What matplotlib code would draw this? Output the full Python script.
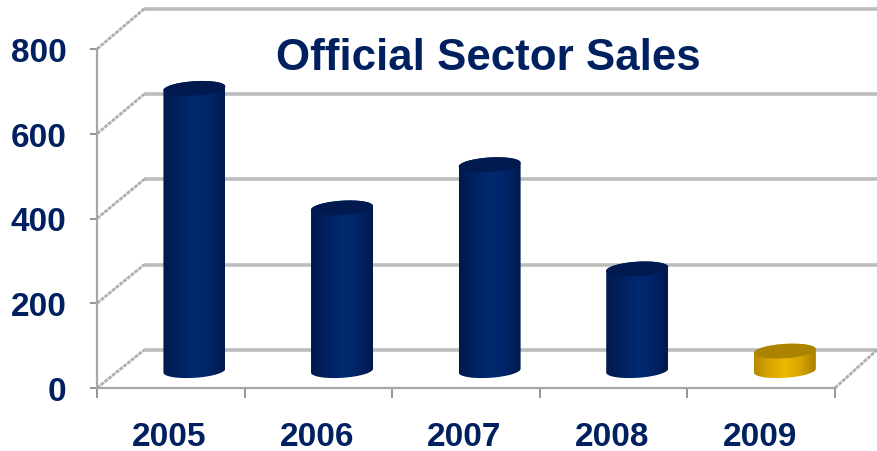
import numpy as np
import matplotlib
matplotlib.use('Agg')
import matplotlib.pyplot as plt
from matplotlib.colors import LinearSegmentedColormap
from matplotlib.patches import PathPatch, Polygon
from matplotlib.path import Path

years = ['2005', '2006', '2007', '2008', '2009']
sales = [666, 384, 486, 240, 46]
y_ticks = [0, 200, 400, 600, 800]
is_current = [False, False, False, False, True]

navy = '#002060'
grey = '#bdbdbd'
# depth of the fake 3d box, in data units
depth_x = 0.32
depth_y = 90
right_edge = 5.285
# cylinder shape, data units
half_w = 0.21
cap_h = 17
cap_skew = 4.5
floor = 41
bar_shift = 0.66

plt.rcParams['font.family'] = ['Liberation Sans', 'DejaVu Sans']
fig = plt.figure(figsize=(8.77, 4.52), dpi=100)
ax = fig.add_axes([97 / 877, (452 - 389) / 452, 738 / 877, 339 / 452])
ax.set_facecolor('none')
blue_map = LinearSegmentedColormap.from_list('blue', ['#001a4d', '#00215f', '#002a70', '#002468', '#001a4d'])
gold_map = LinearSegmentedColormap.from_list('gold', ['#b68a00', '#d9a600', '#edb800', '#d9a600', '#a98000'])


def ellipse(cx, cy, start=0, stop=2 * np.pi):
    tt = np.linspace(start, stop, 40)
    return np.column_stack([cx + half_w * np.cos(tt), cy + cap_h * np.sin(tt) + cap_skew * np.cos(tt)])


# back wall lines and the slanted side lines
for v in y_ticks:
    back = v * 1.006 + depth_y
    ax.plot([depth_x, right_edge], [back, back], color=grey, lw=2.6, zorder=1, clip_on=False, solid_capstyle='butt')
    ax.plot([0, depth_x], [v, back], color='#aeaeae', lw=2, ls=(0, (1.4, 0.35)), zorder=1, clip_on=False)
ax.plot([5, right_edge], [0, depth_y], color='#aeaeae', lw=2, ls=(0, (1.4, 0.35)), zorder=1, clip_on=False)

# cylinders
for i, v in enumerate(sales):
    cx = i + bar_shift
    top = floor + v
    lower = ellipse(cx, floor, np.pi, 2 * np.pi)
    upper = ellipse(cx, top, 0, np.pi)
    body = np.vstack([lower, upper, lower[:1]])
    patch = PathPatch(Path(body), transform=ax.transData, fc='none', ec='none')
    ax.add_patch(patch)
    grad = np.linspace(0, 1, 64).reshape(1, -1)
    im = ax.imshow(grad, cmap=gold_map if is_current[i] else blue_map, aspect='auto', zorder=3,
                   extent=[cx - half_w, cx + half_w, floor - cap_h - cap_skew, top + cap_h + cap_skew])
    im.set_clip_path(patch)
    cap_color = '#ab8300' if is_current[i] else '#001a50'
    ax.add_patch(Polygon(ellipse(cx, top), closed=True, fc=cap_color, ec='none', zorder=4))

ax.set_xlim(0, 5)
ax.set_ylim(0, 800)
for side in ['top', 'right']:
    ax.spines[side].set_visible(False)
for side in ['left', 'bottom']:
    ax.spines[side].set_color('#a6a6a6')
    ax.spines[side].set_linewidth(1.6)
ax.set_yticks(y_ticks)
ax.set_xticks(range(6))
ax.set_xticklabels([])
ax.set_xticks(np.arange(5) + 0.49, labels=years, minor=True)
ax.tick_params(axis='x', which='major', length=7, width=1.3, color='#8c8c8c')
ax.tick_params(axis='x', which='minor', length=0, pad=24, labelsize=24, labelcolor=navy)
ax.tick_params(axis='y', length=5, width=1.3, color='#8c8c8c', pad=17, labelsize=24, labelcolor=navy)
for lab in ax.get_xticklabels(minor=True) + ax.get_yticklabels():
    lab.set_fontweight('bold')
for lab in ax.get_yticklabels():
    lab.set_verticalalignment('center_baseline')

fig.text(488 / 877, 1 - 58 / 452, 'Official Sector Sales', color=navy, fontsize=31.6, fontweight='bold',
         ha='center', va='center')
fig.savefig('out.png', dpi=100)
